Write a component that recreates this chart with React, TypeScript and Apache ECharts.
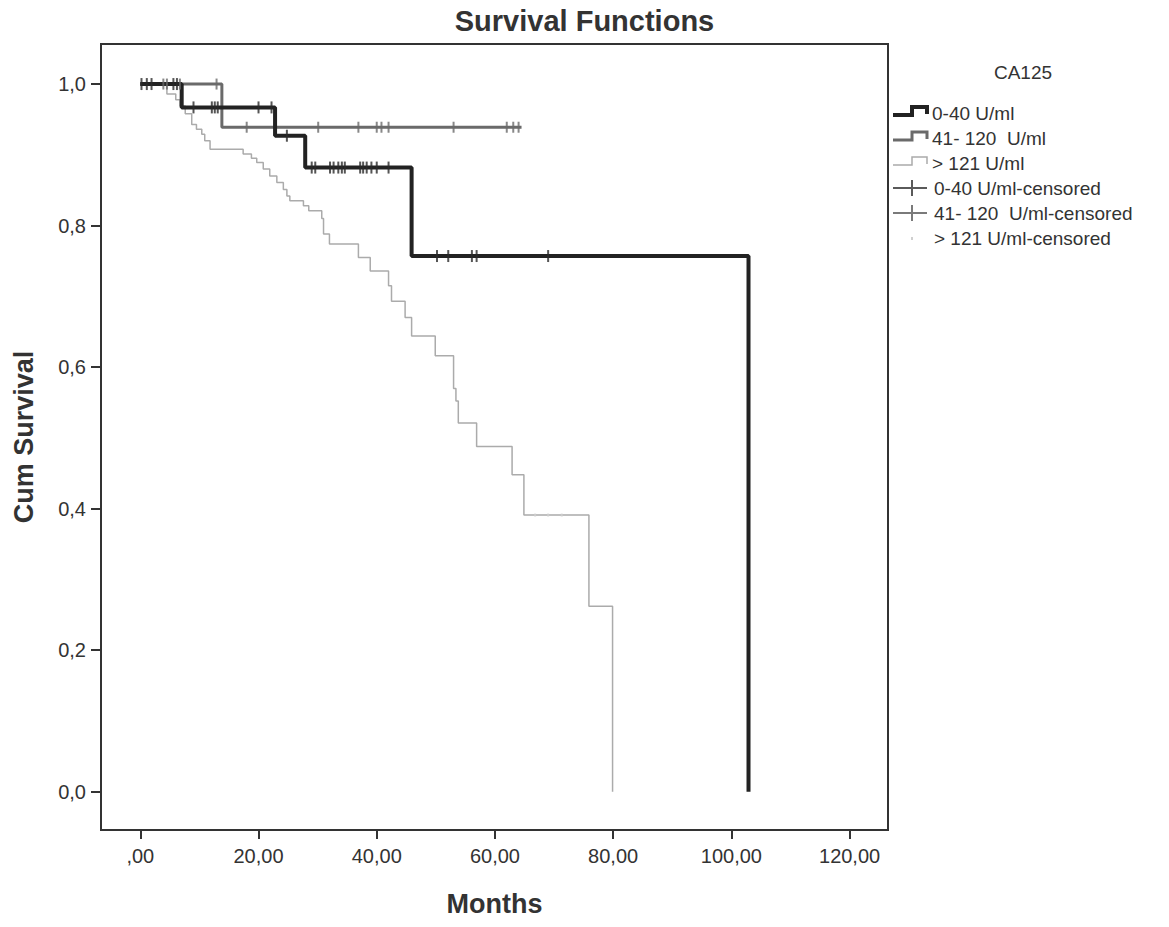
import React, { useEffect, useRef } from "react";
import * as echarts from "echarts";

// ---- data ----
const xTicks = [0, 20, 40, 60, 80, 100, 120];
const xTickLabels = [",00", "20,00", "40,00", "60,00", "80,00", "100,00", "120,00"];
const yTicks = [0, 0.2, 0.4, 0.6, 0.8, 1.0];
const yTickLabels = ["0,0", "0,2", "0,4", "0,6", "0,8", "1,0"];

const groupNames = ["0-40 U/ml", "41- 120  U/ml", "> 121 U/ml"];
const censoredNames = ["0-40 U/ml-censored", "41- 120  U/ml-censored", "> 121 U/ml-censored"];
const legendTitle = "CA125";

// Kaplan-Meier steps: [month, survival after event]
const survLow: [number, number][] = [
  [0, 1], [7.0, 0.967], [22.8, 0.927], [27.9, 0.882], [45.9, 0.757], [102.9, 0.0],
];
const survMid: [number, number][] = [
  [0, 1], [13.8, 0.939], [64.5, 0.939],
];
const survHigh: [number, number][] = [
  [0, 1], [4.5, 0.986], [6.0, 0.978], [6.7, 0.969], [7.6, 0.958], [8.7, 0.943],
  [9.5, 0.936], [10.4, 0.929], [10.9, 0.92], [11.8, 0.908], [17.4, 0.901],
  [18.8, 0.895], [19.7, 0.889], [20.8, 0.88], [21.9, 0.87], [23.1, 0.861],
  [24.2, 0.851], [24.8, 0.842], [25.3, 0.835], [27.6, 0.828], [28.5, 0.821],
  [30.7, 0.81], [31.0, 0.788], [32.0, 0.774], [36.9, 0.755], [38.9, 0.736],
  [42.0, 0.715], [42.5, 0.693], [44.8, 0.67], [45.9, 0.644], [49.9, 0.616],
  [53.0, 0.57], [53.4, 0.552], [53.8, 0.521], [56.9, 0.488], [62.9, 0.448],
  [64.9, 0.391], [75.9, 0.262], [79.9, 0.0],
];

// censored observations: [month, survival]
const censLow: [number, number][] = [
  [0.2, 1], [1.1, 1], [1.9, 1], [5.6, 1], [6.2, 1],
  [9.0, 0.967], [12.1, 0.967], [12.6, 0.967], [13.1, 0.967], [20.0, 0.967], [22.2, 0.967],
  [24.8, 0.927],
  [29.0, 0.882], [29.6, 0.882], [32.1, 0.882], [32.7, 0.882], [33.5, 0.882], [34.1, 0.882],
  [34.6, 0.882], [37.2, 0.882], [37.7, 0.882], [38.3, 0.882], [39.1, 0.882], [40.0, 0.882],
  [42.0, 0.882],
  [50.2, 0.757], [52.1, 0.757], [56.1, 0.757], [56.9, 0.757], [69.0, 0.757],
];
const censMid: [number, number][] = [
  [3.9, 1], [4.5, 1], [6.7, 1], [12.9, 1],
  [18.0, 0.939], [30.1, 0.939], [36.9, 0.939], [40.0, 0.939], [40.8, 0.939], [42.0, 0.939],
  [53.0, 0.939], [62.0, 0.939], [63.1, 0.939], [64.0, 0.939],
];
const censHigh: [number, number][] = [
  [66.8, 0.391], [69.0, 0.391], [71.3, 0.391],
];

const FONT = "'Liberation Sans', Arial, Helvetica, sans-serif";

export default function App() {
  const ref = useRef<HTMLDivElement>(null);

  useEffect(() => {
    if (!ref.current) return;
    const chart = echarts.init(ref.current, undefined, { renderer: "svg" });

    const findLabel = (ticks: number[], labels: string[], v: number) => {
      const i = ticks.findIndex((t) => Math.abs(t - v) < 1e-6);
      return i >= 0 ? labels[i] : "";
    };

    const lx = 893;
    const tx = 932;
    const rows = [113, 138, 163, 188, 213, 238];
    const stepColors = ["#222222", "#6a6a6a", "#ababab"];
    const stepWidths = [4, 3, 1.5];
    const censColors = ["#5a5a5a", "#7a7a7a", "#cfcfcf"];

    const legendEls: any[] = [
      {
        type: "text",
        x: 1023,
        y: 72,
        style: {
          text: legendTitle,
          fontFamily: FONT,
          fontSize: 19,
          fill: "#333",
          align: "center",
          verticalAlign: "middle",
        },
      },
    ];
    groupNames.forEach((name, i) => {
      const y = rows[i];
      legendEls.push({
        type: "polyline",
        shape: {
          points: [
            [lx, y + 2],
            [lx + 19, y + 2],
            [lx + 19, y - 6],
            [lx + 34, y - 6],
            [lx + 34, y + 1],
          ],
        },
        style: { stroke: stepColors[i], lineWidth: stepWidths[i], fill: null },
      });
      legendEls.push({
        type: "text",
        x: tx,
        y,
        style: {
          text: name,
          fontFamily: FONT,
          fontSize: 19,
          fill: "#333",
          align: "left",
          verticalAlign: "middle",
        },
      });
    });
    censoredNames.forEach((name, i) => {
      const y = rows[3 + i];
      if (i < 2) {
        legendEls.push({
          type: "line",
          shape: { x1: lx, y1: y, x2: lx + 34, y2: y },
          style: { stroke: censColors[i], lineWidth: 2 },
        });
        legendEls.push({
          type: "line",
          shape: { x1: lx + 19, y1: y - 8, x2: lx + 19, y2: y + 8 },
          style: { stroke: censColors[i], lineWidth: 2 },
        });
      } else {
        legendEls.push({
          type: "rect",
          shape: { x: lx + 18, y: y - 1, width: 2, height: 3 },
          style: { fill: censColors[i] },
        });
      }
      legendEls.push({
        type: "text",
        x: tx + 2,
        y,
        style: {
          text: name,
          fontFamily: FONT,
          fontSize: 19,
          fill: "#333",
          align: "left",
          verticalAlign: "middle",
        },
      });
    });

    const option: any = {
      animation: false,
      backgroundColor: "#ffffff",
      title: {
        text: "Survival Functions",
        left: "center",
        top: 1,
        textStyle: { fontFamily: FONT, fontSize: 29, fontWeight: "bold", color: "#333" },
      },
      grid: {
        left: 101,
        right: 281,
        top: 44,
        bottom: 97,
        show: true,
        borderColor: "#333",
        borderWidth: 2,
        backgroundColor: "transparent",
        containLabel: false,
        outerBoundsMode: "none",
      },
      xAxis: {
        type: "value",
        min: -6.65,
        max: 126.5,
        name: "Months",
        nameLocation: "middle",
        nameGap: 60,
        nameTextStyle: { fontFamily: FONT, fontSize: 27, fontWeight: "bold", color: "#333" },
        axisLine: { show: true, onZero: false, lineStyle: { color: "#333", width: 2 } },
        axisTick: {
          show: true,
          length: 9,
          inside: false,
          customValues: xTicks,
          lineStyle: { color: "#333", width: 2 },
        },
        axisLabel: {
          show: true,
          margin: 16,
          customValues: xTicks,
          fontFamily: FONT,
          fontSize: 20,
          color: "#333",
          formatter: (v: number) => findLabel(xTicks, xTickLabels, v),
        },
        splitLine: { show: false },
      },
      yAxis: {
        type: "value",
        min: -0.054,
        max: 1.0566,
        name: "Cum Survival",
        nameLocation: "middle",
        nameGap: 64,
        nameRotate: 90,
        nameTextStyle: { fontFamily: FONT, fontSize: 27, fontWeight: "bold", color: "#333" },
        axisLine: { show: true, onZero: false, lineStyle: { color: "#333", width: 2 } },
        axisTick: {
          show: true,
          length: 10,
          inside: false,
          customValues: yTicks,
          lineStyle: { color: "#333", width: 2 },
        },
        axisLabel: {
          show: true,
          margin: 15,
          customValues: yTicks,
          fontFamily: FONT,
          fontSize: 20,
          color: "#333",
          formatter: (v: number) => findLabel(yTicks, yTickLabels, v),
        },
        splitLine: { show: false },
      },
      series: [
        {
          name: groupNames[2],
          type: "line",
          step: "end",
          data: survHigh,
          showSymbol: false,
          lineStyle: { color: "#ababab", width: 1.5 },
          z: 2,
          silent: true,
        },
        {
          name: groupNames[1],
          type: "line",
          step: "end",
          data: survMid,
          showSymbol: false,
          lineStyle: { color: "#6a6a6a", width: 3 },
          z: 3,
          silent: true,
        },
        {
          name: groupNames[0],
          type: "line",
          step: "end",
          data: survLow,
          showSymbol: false,
          lineStyle: { color: "#222222", width: 4 },
          z: 4,
          silent: true,
        },
        {
          name: censoredNames[2],
          type: "scatter",
          data: censHigh,
          symbol: "rect",
          symbolSize: [2, 3],
          itemStyle: { color: "#cfcfcf" },
          z: 5,
          silent: true,
        },
        {
          name: censoredNames[1],
          type: "scatter",
          data: censMid,
          symbol: "rect",
          symbolSize: [2, 11],
          itemStyle: { color: "#6a6a6a" },
          z: 5,
          silent: true,
        },
        {
          name: censoredNames[0],
          type: "scatter",
          data: censLow,
          symbol: "rect",
          symbolSize: [2, 12],
          itemStyle: { color: "#2a2a2a" },
          z: 6,
          silent: true,
        },
      ],
      graphic: legendEls,
    };

    chart.setOption(option);
    return () => chart.dispose();
  }, []);

  return (
    <div
      ref={ref}
      style={{ position: "fixed", left: 0, top: 0, width: 1169, height: 927, background: "#fff" }}
    />
  );
}
